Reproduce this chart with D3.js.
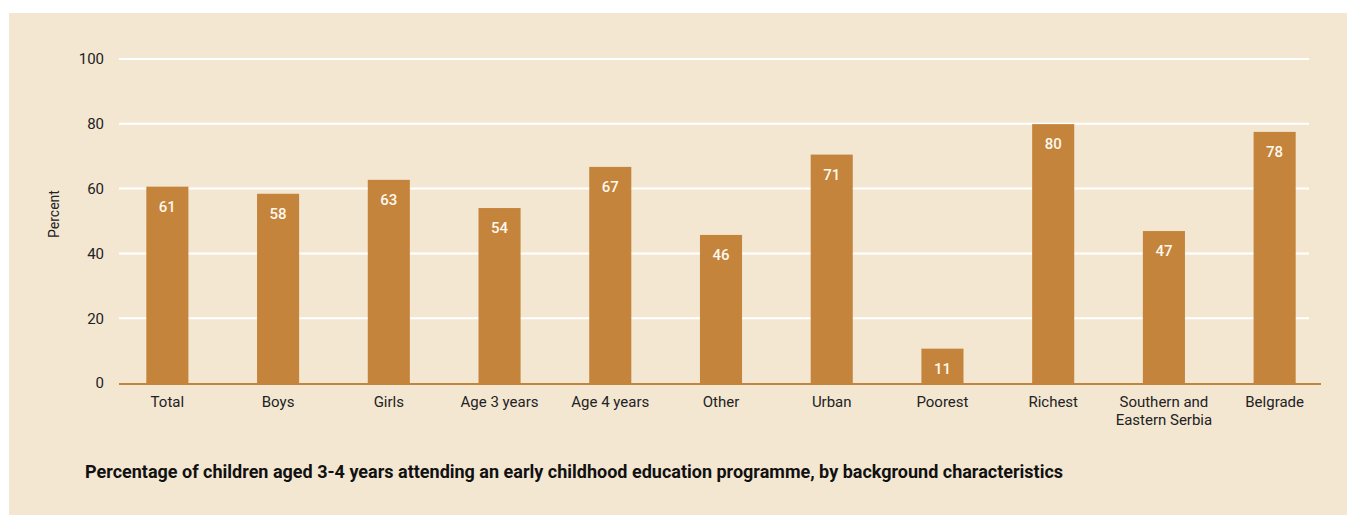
<!DOCTYPE html>
<html>
<head>
<meta charset="utf-8">
<script src="https://cdn.jsdelivr.net/npm/d3@7"></script>
<style>
  body { margin: 0; background: #ffffff; }
  svg { display: block; font-family: "Roboto", "Liberation Sans", sans-serif; }
</style>
</head>
<body>
<div id="chart"></div>
<script>
/* DATA */
const categories = ["Total", "Boys", "Girls", "Age 3 years", "Age 4 years", "Other",
  "Urban", "Poorest", "Richest", "Southern and\nEastern Serbia", "Belgrade"];
const values = [60.6, 58.4, 62.7, 54.0, 66.7, 45.7, 70.5, 10.6, 79.9, 46.9, 77.5];
const yTicks = [0, 20, 40, 60, 80, 100];
const yLabel = "Percent";
const title = "Percentage of children aged 3-4 years attending an early childhood education programme, by background characteristics";

/* CONSTANTS */
const width = 1357,
  height = 515,
  margin = { top: 59, bottom: 132, left: 119, right: 36 };

const data = categories.map((c, i) => ({ cat: c, value: values[i] }));

const svg = d3.select("#chart")
  .append("svg")
  .attr("width", width)
  .attr("height", height);

// beige panel
svg.append("rect")
  .attr("x", 9)
  .attr("y", 13)
  .attr("width", 1338)
  .attr("height", 502)
  .attr("fill", "#f3e7d2");

// + SCALES
const xScale = d3.scaleBand()
  .domain(categories)
  .range([112, 1330])
  .paddingInner(0.62)
  .paddingOuter(0.31);

const yScale = d3.scaleLinear()
  .domain([0, 100])
  .range([height - margin.bottom, margin.top]);

// + GRIDLINES
svg.append("g")
  .selectAll("line")
  .data(yTicks.filter(d => d > 0))
  .join("line")
  .attr("x1", margin.left)
  .attr("x2", 1309)
  .attr("y1", d => yScale(d))
  .attr("y2", d => yScale(d))
  .attr("stroke", "#ffffff")
  .attr("stroke-width", 2);

// + Y AXIS (labels only)
const yAxis = d3.axisLeft(yScale)
  .tickValues(yTicks)
  .tickSize(0)
  .tickPadding(0);

const yAxisGroup = svg.append("g")
  .attr("class", "yAxis")
  .attr("transform", `translate(${104},0)`)
  .call(yAxis);

yAxisGroup.select(".domain").remove();
yAxisGroup.selectAll("text")
  .attr("font-family", "Roboto, 'Liberation Sans', sans-serif")
  .attr("font-size", 15)
  .attr("fill", "#222");

svg.append("text")
  .attr("transform", `translate(${59},${214}) rotate(-90)`)
  .attr("text-anchor", "middle")
  .attr("font-size", 14)
  .attr("fill", "#222")
  .text(yLabel);

// + BARS
svg.append("g")
  .selectAll("rect")
  .data(data)
  .join("rect")
  .attr("x", d => xScale(d.cat))
  .attr("width", xScale.bandwidth())
  .attr("y", d => yScale(d.value))
  .attr("height", d => yScale(0) - yScale(d.value))
  .attr("fill", "#c4843b");

// value labels
svg.append("g")
  .selectAll("text")
  .data(data)
  .join("text")
  .attr("x", d => xScale(d.cat) + xScale.bandwidth() / 2)
  .attr("y", d => yScale(d.value) + 25)
  .attr("text-anchor", "middle")
  .attr("font-size", 15)
  .attr("font-weight", 500)
  .attr("fill", "#fff8ee")
  .text(d => Math.round(d.value));

// baseline
svg.append("line")
  .attr("x1", margin.left)
  .attr("x2", 1321)
  .attr("y1", yScale(0) + 1)
  .attr("y2", yScale(0) + 1)
  .attr("stroke", "#c4843b")
  .attr("stroke-width", 2);

// + X AXIS
const xAxis = d3.axisBottom(xScale).tickSize(0).tickPadding(0);
const xAxisGroup = svg.append("g")
  .attr("class", "xAxis")
  .attr("transform", `translate(0,${yScale(0)})`)
  .call(xAxis);

xAxisGroup.select(".domain").remove();
xAxisGroup.selectAll("text").remove();
xAxisGroup.selectAll(".tick")
  .append("text")
  .attr("y", 24)
  .attr("text-anchor", "middle")
  .attr("font-family", "Roboto, 'Liberation Sans', sans-serif")
  .attr("font-size", 15)
  .attr("fill", "#222")
  .selectAll("tspan")
  .data(d => d.split("\n"))
  .join("tspan")
  .attr("x", 0)
  .attr("dy", (d, i) => i === 0 ? 0 : 18)
  .text(d => d);

// + TITLE
svg.append("text")
  .attr("x", 85)
  .attr("y", 478)
  .attr("font-size", 18)
  .attr("font-weight", 700)
  .attr("fill", "#111")
  .text(title);
</script>
</body>
</html>
